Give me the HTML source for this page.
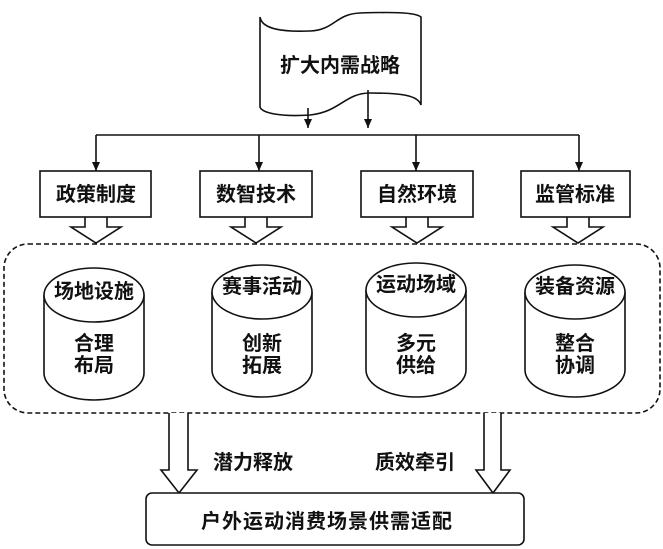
<!DOCTYPE html>
<html><head><meta charset="utf-8"><style>
html,body{margin:0;padding:0;background:#fff;}
svg{display:block;}
text{font-family:"Liberation Sans","Noto Sans CJK SC",sans-serif;fill:#111;font-weight:600;}
</style></head><body>
<svg width="663" height="549" viewBox="0 0 663 549" xmlns="http://www.w3.org/2000/svg">
<defs>
<marker id="ah" markerWidth="10" markerHeight="10" refX="9" refY="4" orient="auto" markerUnits="userSpaceOnUse">
<path d="M0,0 L9,4 L0,8 Z" fill="#111"/>
</marker>
</defs>
<g stroke="#111" stroke-width="1.6" fill="none">
<path d="M260,17 C262,30 285,32 310,31 C335,30 335,14 360,13 C390,12 415,12 421,17 L421,105 C418,95 400,93 370,93 C345,93 340,112 310,115 C280,117 262,113 260,107 Z" fill="#fff"/>
<line x1="308" y1="108" x2="308" y2="128" marker-end="url(#ah)"/>
<line x1="368" y1="90" x2="368" y2="128" marker-end="url(#ah)"/>
<line x1="96" y1="135" x2="579" y2="135"/>
<line x1="96" y1="135" x2="96" y2="171" marker-end="url(#ah)"/>
<line x1="259" y1="135" x2="259" y2="171" marker-end="url(#ah)"/>
<line x1="416" y1="135" x2="416" y2="171" marker-end="url(#ah)"/>
<line x1="579" y1="135" x2="579" y2="171" marker-end="url(#ah)"/>
<rect x="40" y="171" width="111" height="46"/>
<rect x="200" y="171" width="112" height="46"/>
<rect x="361" y="171" width="112" height="46"/>
<rect x="521" y="171" width="109" height="46"/>
<path d="M85,217 L85,227 L71,227 L96,243 L121,227 L107,227 L107,217"/>
<path d="M245,217 L245,227 L231,227 L256,243 L281,227 L267,227 L267,217"/>
<path d="M406,217 L406,227 L392,227 L417,243 L442,227 L428,227 L428,217"/>
<path d="M567,217 L567,227 L553,227 L578,243 L603,227 L589,227 L589,217"/>
<rect x="4" y="244" width="656" height="169" rx="24" ry="24" stroke-dasharray="5,3"/>
<g fill="#fff">
<path d="M44,295 L44,373 A50,27 0 0 0 144,373 L144,295"/>
<ellipse cx="94" cy="295" rx="50" ry="27"/>
<path d="M212,292 L212,370 A50,27 0 0 0 312,370 L312,292"/>
<ellipse cx="262" cy="292" rx="50" ry="27"/>
<path d="M366,290 L366,370 A50,27 0 0 0 466,370 L466,290"/>
<ellipse cx="416" cy="290" rx="50" ry="27"/>
<path d="M525,292 L525,370 A50,27 0 0 0 625,370 L625,292"/>
<ellipse cx="575" cy="292" rx="50" ry="27"/>
</g>
<path d="M169,413 L169,470 L161,470 L179,493 L197,470 L188,470 L188,413" fill="#fff"/>
<path d="M484,413 L484,470 L476,470 L493,493 L510,470 L501,470 L501,413" fill="#fff"/>
<rect x="146" y="493" width="378" height="52" rx="6" ry="6" fill="#fff"/>
</g>
<g font-size="20" text-anchor="middle">
<text x="340" y="72">扩大内需战略</text>
<text x="96" y="201">政策制度</text>
<text x="256" y="201">数智技术</text>
<text x="417" y="201">自然环境</text>
<text x="575" y="201">监管标准</text>
<text x="94" y="298">场地设施</text>
<text x="262" y="293">赛事活动</text>
<text x="416" y="291">运动场域</text>
<text x="575" y="293">装备资源</text>
<text x="94" y="350">合理</text>
<text x="94" y="372">布局</text>
<text x="262" y="350">创新</text>
<text x="262" y="372">拓展</text>
<text x="416" y="350">多元</text>
<text x="416" y="372">供给</text>
<text x="575" y="350">整合</text>
<text x="575" y="372">协调</text>
<text x="253" y="469">潜力释放</text>
<text x="415" y="469">质效牵引</text>
<text x="327" y="528" letter-spacing="1">户外运动消费场景供需适配</text>
</g>
</svg>
</body></html>
